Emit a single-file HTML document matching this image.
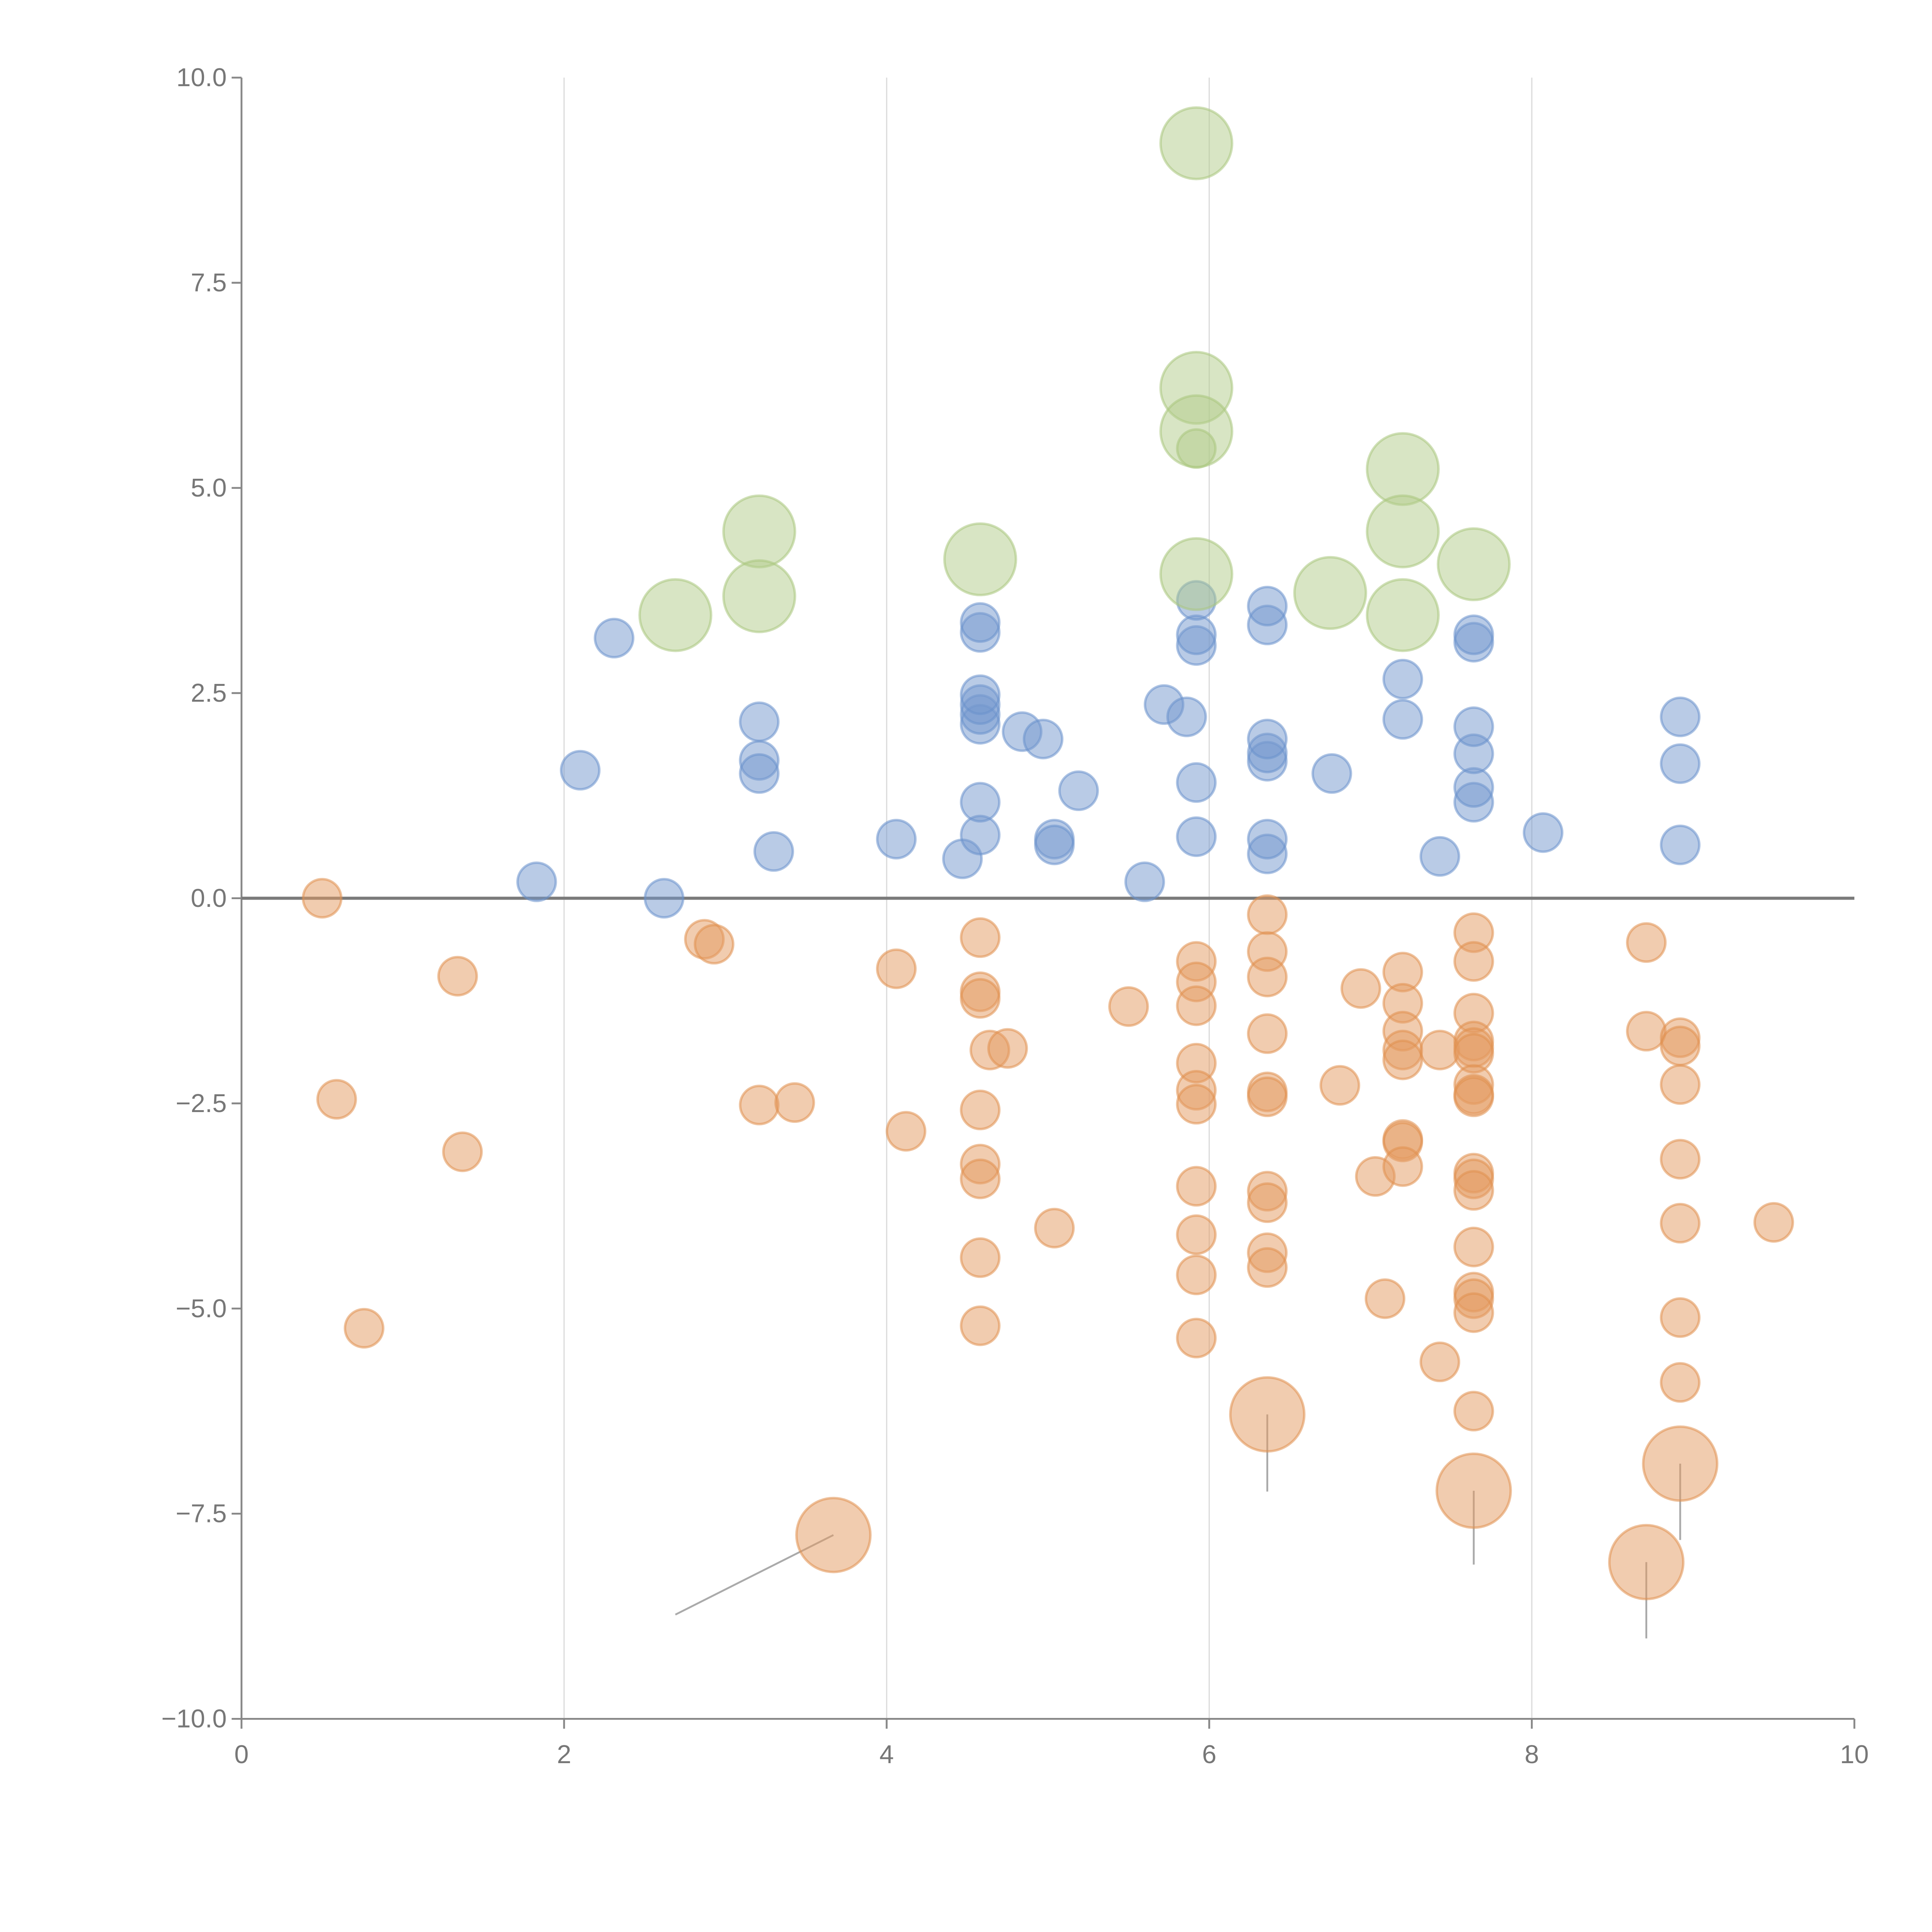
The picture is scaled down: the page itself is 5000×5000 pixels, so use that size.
<!DOCTYPE html>
<html><head><meta charset="utf-8"><style>
html,body{margin:0;padding:0;background:#fff}
svg{display:block}
text{font-family:"Liberation Sans",sans-serif;fill:#777;font-size:21px}
</style></head><body>
<svg id="chart" width="5000" height="5000" viewBox="0 0 1568 1568" xmlns="http://www.w3.org/2000/svg">
<g id="grid"></g>
<g id="axes"></g>
<g id="leaders"></g>
<g id="marks"></g>
</svg>
<script>
const xTicks=[0,2,4,6,8,10];
const yTicks=[-10,-7.5,-5,-2.5,0,2.5,5,7.5,10];
const blueX=[1.83,2.10,2.31,2.62,3.21,3.21,3.21,3.30,4.06,4.47,4.58,4.58,4.58,4.58,4.58,4.58,4.58,4.58,4.84,4.97,5.04,5.04,5.19,5.60,5.72,5.86,5.92,5.92,5.92,5.92,5.92,6.36,6.36,6.36,6.36,6.36,6.36,6.36,6.76,7.20,7.20,7.43,7.64,7.64,7.64,7.64,7.64,7.64,8.07,8.92,8.92,8.92];
const blueY=[0.20,1.56,3.17,0.0,2.15,1.68,1.52,0.57,0.72,0.48,0.77,1.17,2.12,2.24,2.36,2.48,3.24,3.36,2.03,1.94,0.72,0.65,1.31,0.20,2.36,2.21,0.75,1.41,3.08,3.21,3.63,0.54,0.72,1.67,1.77,1.94,3.33,3.56,1.52,2.18,2.67,0.51,1.17,1.35,1.76,2.09,3.12,3.21,0.80,0.65,1.64,2.21];
const orangeX=[0.50,0.59,0.76,1.34,1.37,2.87,2.93,3.21,3.43,3.67,4.06,4.12,4.58,4.58,4.58,4.58,4.58,4.58,4.58,4.58,4.64,4.75,5.04,5.50,5.92,5.92,5.92,5.92,5.92,5.92,5.92,5.92,5.92,5.92,6.36,6.36,6.36,6.36,6.36,6.36,6.36,6.36,6.36,6.36,6.36,6.81,6.94,7.03,7.09,7.20,7.20,7.20,7.20,7.20,7.20,7.20,7.20,7.43,7.43,7.64,7.64,7.64,7.64,7.64,7.64,7.64,7.64,7.64,7.64,7.64,7.64,7.64,7.64,7.64,7.64,7.64,7.64,8.71,8.71,8.71,8.92,8.92,8.92,8.92,8.92,8.92,8.92,8.92,9.50];
const orangeY=[0,-2.45,-5.24,-0.95,-3.09,-0.50,-0.56,-2.52,-2.49,-7.76,-0.86,-2.84,-0.48,-1.14,-1.22,-2.58,-3.24,-3.42,-4.38,-5.21,-1.85,-1.83,-4.02,-1.32,-0.77,-1.02,-1.31,-2.01,-2.34,-2.51,-3.51,-4.10,-4.59,-5.36,-0.20,-0.65,-0.96,-1.65,-2.36,-2.42,-3.57,-3.71,-4.32,-4.50,-6.29,-2.28,-1.10,-3.39,-4.88,-0.90,-1.28,-1.62,-1.85,-1.97,-2.94,-2.97,-3.27,-1.85,-5.65,-0.42,-0.77,-1.40,-1.74,-1.82,-1.89,-2.27,-2.39,-2.42,-3.35,-3.42,-3.56,-4.25,-4.80,-4.88,-5.05,-6.25,-7.22,-0.54,-1.62,-8.09,-1.70,-1.80,-2.27,-3.18,-3.96,-5.11,-5.90,-6.89,-3.95];
const orangeBig=[9,44,76,79,87];
const greenX=[2.69,3.21,3.21,4.58,5.92,5.92,5.92,5.92,5.92,6.75,7.20,7.20,7.20,7.64];
const greenY=[3.45,4.47,3.68,4.13,9.20,6.22,5.69,5.48,3.95,3.72,5.23,4.47,3.45,4.07];
const greenSmall=[7];
const leaderFromX=[3.67,6.36,7.64,8.71,8.92];
const leaderFromY=[-7.76,-6.29,-7.22,-8.09,-6.89];
const leaderToX=[2.69,6.36,7.64,8.71,8.92];
const leaderToY=[-8.73,-7.23,-8.12,-9.02,-7.82];

const X0=196,X1=1505,Y0=1395,Y1=63;
const sx=v=>X0+(v-0)/(10-0)*(X1-X0);
const sy=v=>Y0-(v+10)/20*(Y0-Y1);
const NS='http://www.w3.org/2000/svg';
function mk(tag,attrs,parent){const e=document.createElementNS(NS,tag);for(const k in attrs)e.setAttribute(k,attrs[k]);parent.appendChild(e);return e;}
const grid=document.getElementById('grid'),axes=document.getElementById('axes'),marks=document.getElementById('marks'),leaders=document.getElementById('leaders');

xTicks.forEach(t=>{
  if(t>0&&t<10){const g=mk('line',{x1:sx(t),x2:sx(t),y1:Y1,y2:Y0,stroke:'#dcdcdc','stroke-width':1},grid);
  
  }
  const tk=mk('line',{x1:sx(t),x2:sx(t),y1:Y0,y2:Y0+8,stroke:'#888','stroke-width':1.5},axes);
  
  
  const tx=mk('text',{x:sx(t),y:Y0+36,'text-anchor':'middle'},axes);tx.textContent=t;
  
  
});
yTicks.forEach(t=>{
  const tk=mk('line',{x1:X0-8,x2:X0,y1:sy(t),y2:sy(t),stroke:'#888','stroke-width':1.5},axes);
  
  
  const tx=mk('text',{x:X0-12,y:sy(t)+7,'text-anchor':'end'},axes);tx.textContent=(t<0?'\u2212':'')+Math.abs(t).toFixed(1);
  
  
});
const ya=mk('line',{x1:X0,x2:X0,y1:Y1,y2:Y0,stroke:'#888','stroke-width':1.5},axes);


const xa=mk('line',{x1:X0,x2:X1,y1:Y0,y2:Y0,stroke:'#888','stroke-width':1.5},axes);


const zl=mk('line',{x1:X0,x2:X1,y1:sy(0),y2:sy(0),stroke:'#7a7a7a','stroke-width':2.5},axes);



leaderFromX.forEach((v,i)=>{
  const l=mk('line',{x1:sx(v),y1:sy(leaderFromY[i]),x2:sx(leaderToX[i]),y2:sy(leaderToY[i]),stroke:'#aaa','stroke-width':1.5},leaders);
  
  
});

function bubbles(xs,ys,fill,stroke,name,rfn){
  xs.forEach((v,i)=>{
    const c=mk('circle',{cx:sx(v),cy:sy(ys[i]),r:rfn(i),fill:fill,'fill-opacity':0.5,stroke:stroke,'stroke-opacity':0.55,'stroke-width':2},marks);
    
    
  });
}
bubbles(orangeX,orangeY,'#e3995f','#e0904f','bubble-orange',i=>orangeBig.includes(i)?30:15.5);
bubbles(blueX,blueY,'#7398cd','#6a92cc','bubble-blue',i=>15.5);
bubbles(greenX,greenY,'#b2cc8a','#a9c67d','bubble-green',i=>greenSmall.includes(i)?15.5:29);
</script>
</body></html>
